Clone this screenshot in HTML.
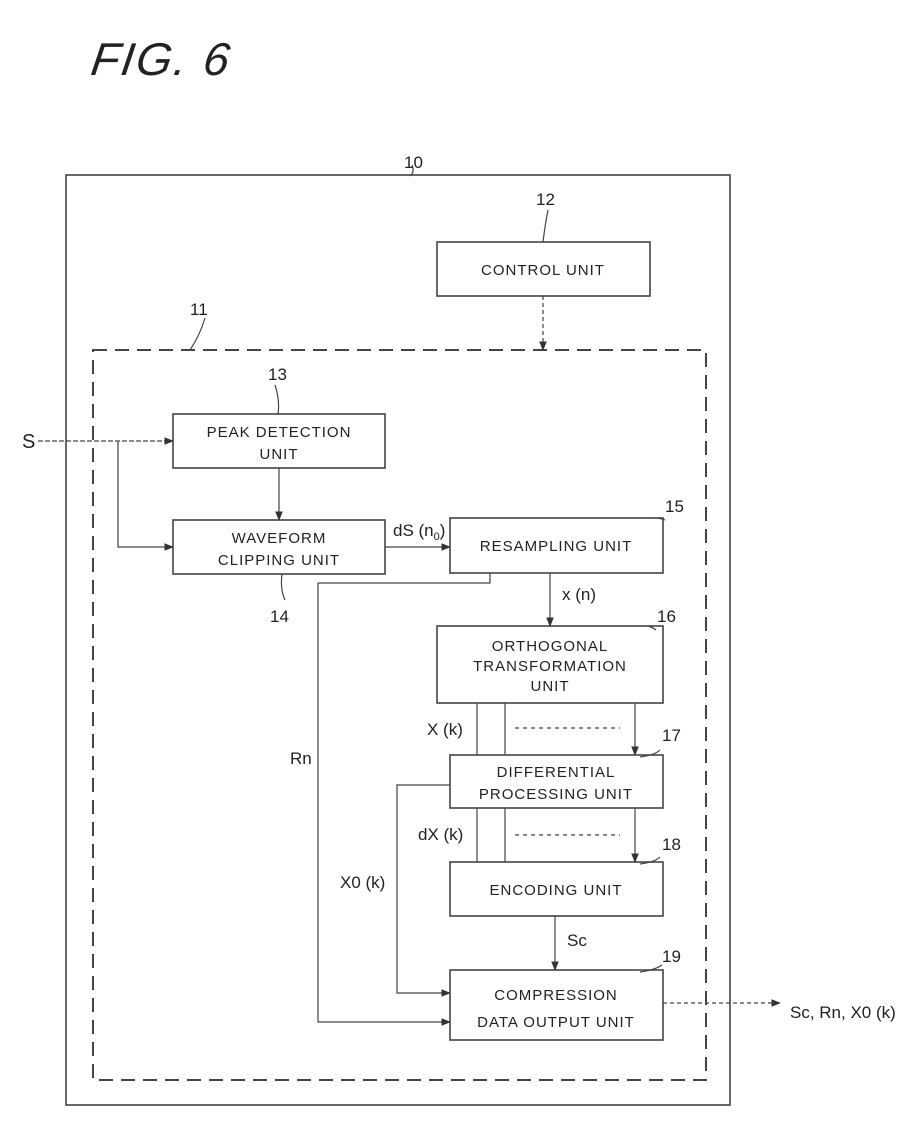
<!DOCTYPE html>
<html><head><meta charset="utf-8"><style>
html,body{margin:0;padding:0;background:#fff;}
svg text{font-family:"Liberation Sans",sans-serif;fill:#222;}
</style></head><body>
<svg width="921" height="1134" viewBox="0 0 921 1134" xmlns="http://www.w3.org/2000/svg">
<defs><marker id="a" viewBox="0 0 10 10" refX="9" refY="5" markerWidth="8" markerHeight="8" orient="auto"><path d="M0,1 L10,5 L0,9 z" fill="#333"/></marker></defs>
<text x="92" y="75" font-size="46" font-style="italic" letter-spacing="2" transform="skewX(-8) translate(8,0)">FIG. 6</text>
<g fill="none" stroke="#444" stroke-width="1.6">
<rect x="66" y="175" width="664" height="930"/>
<rect x="93" y="350" width="613" height="730" stroke-dasharray="14,8" stroke-width="2"/>
<rect x="437" y="242" width="213" height="54"/>
<rect x="173" y="414" width="212" height="54"/>
<rect x="173" y="520" width="212" height="54"/>
<rect x="450" y="518" width="213" height="55"/>
<rect x="437" y="626" width="226" height="77"/>
<rect x="450" y="755" width="213" height="53"/>
<rect x="450" y="862" width="213" height="54"/>
<rect x="450" y="970" width="213" height="70"/>
</g>
<g fill="none" stroke="#444" stroke-width="1.2">
<path d="M543,296 V350" stroke-dasharray="4,3" marker-end="url(#a)"/>
<path d="M38,441 H173" stroke-dasharray="5,2" marker-end="url(#a)"/>
<path d="M118,441 V547 H173" marker-end="url(#a)"/>
<path d="M279,468 V520" marker-end="url(#a)"/>
<path d="M385,547 H450" marker-end="url(#a)"/>
<path d="M490,573 V583 H318 V1022 H450" marker-end="url(#a)"/>
<path d="M550,573 V626" marker-end="url(#a)"/>
<path d="M477,703 V755 M505,703 V755 M635,703 V755" marker-end="url(#a)"/>
<path d="M477,808 V862 M505,808 V862 M635,808 V862" marker-end="url(#a)"/>
<path d="M515,728 H620 M515,835 H620" stroke-dasharray="4,4"/>
<path d="M450,785 H397 V993 H450" marker-end="url(#a)"/>
<path d="M555,916 V970" marker-end="url(#a)"/>
<path d="M663,1003 H780" stroke-dasharray="4,3" marker-end="url(#a)"/>
<path d="M412,165 Q415,172 410,176 M548,210 Q545,225 543,242 M205,318 Q200,335 190,350 M275,385 Q280,400 278,414 M282,574 Q280,590 285,600 M665,520 Q660,518 655,518 M656,630 Q652,627 648,626 M660,750 Q655,755 640,757 M660,857 Q655,862 640,864 M662,965 Q655,970 640,972"/>
</g>
<g font-size="15" text-anchor="middle" letter-spacing="1">
<text x="543" y="275">CONTROL UNIT</text>
<text x="279" y="437">PEAK DETECTION</text><text x="279" y="459">UNIT</text>
<text x="279" y="543">WAVEFORM</text><text x="279" y="565">CLIPPING UNIT</text>
<text x="556" y="551">RESAMPLING UNIT</text>
<text x="550" y="651">ORTHOGONAL</text><text x="550" y="671">TRANSFORMATION</text><text x="550" y="691">UNIT</text>
<text x="556" y="777">DIFFERENTIAL</text><text x="556" y="799">PROCESSING UNIT</text>
<text x="556" y="895">ENCODING UNIT</text>
<text x="556" y="1000">COMPRESSION</text><text x="556" y="1027">DATA OUTPUT UNIT</text>
</g>
<g font-size="17">
<text x="404" y="168">10</text><text x="536" y="205">12</text><text x="190" y="315">11</text>
<text x="268" y="380">13</text><text x="270" y="622">14</text><text x="665" y="512">15</text>
<text x="657" y="622">16</text><text x="662" y="741">17</text><text x="662" y="850">18</text><text x="662" y="962">19</text>
<text x="22" y="448" font-size="20">S</text>
<text x="393" y="536">dS (n<tspan font-size="11" dy="4">0</tspan><tspan dy="-4">)</tspan></text>
<text x="562" y="600">x (n)</text>
<text x="427" y="735">X (k)</text>
<text x="418" y="840">dX (k)</text>
<text x="290" y="764">Rn</text>
<text x="340" y="888">X0 (k)</text>
<text x="567" y="946">Sc</text>
<text x="790" y="1018">Sc, Rn, X0 (k)</text>
</g>
</svg>
</body></html>
